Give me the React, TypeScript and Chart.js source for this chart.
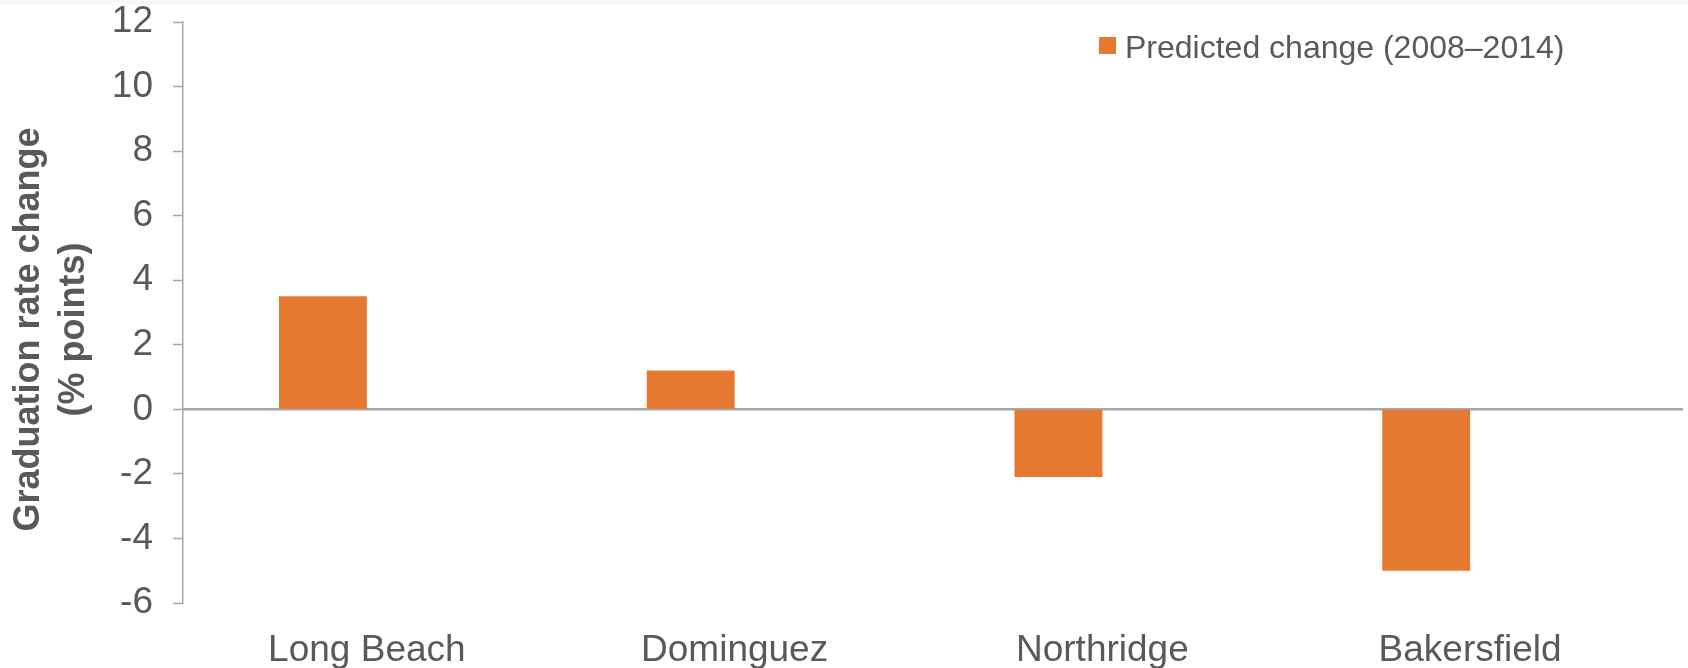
import React, { useEffect, useRef } from "react";
import { Chart, registerables } from "chart.js";

Chart.register(...registerables);

const categories = ["Long Beach", "Dominguez", "Northridge", "Bakersfield"];
const predictedChange = [3.5, 1.2, -2.1, -5.0];
const emptySlot = [null, null, null, null];
const seriesLabel = "Predicted change (2008\u20132014)";
const yTitleLines = ["Graduation rate change", "(% points)"];
const yMin = -6;
const yMax = 12;
const yStep = 2;

const FONT = "'Liberation Sans', Arial, sans-serif";
const TEXT = "#595959";
const AXIS = "#a6a6a6";
const BAR = "#E5792F";

export default function App() {
  const ref = useRef<HTMLCanvasElement | null>(null);

  useEffect(() => {
    document.body.style.margin = "0";
    const canvas = ref.current;
    if (!canvas) return;

    const overlay = {
      id: "overlay",
      beforeDraw(chart: any) {
        const { ctx } = chart;
        ctx.save();
        ctx.fillStyle = "#ffffff";
        ctx.fillRect(0, 0, chart.width, chart.height);
        ctx.fillStyle = "#f8f8f8";
        ctx.fillRect(0, 0, chart.width, 5);
        ctx.restore();
      },
      beforeDatasetsDraw(chart: any) {
        const { ctx, chartArea } = chart;
        const y0 = chart.scales.y.getPixelForValue(0);
        ctx.save();
        ctx.strokeStyle = AXIS;
        ctx.lineWidth = 2.5;
        ctx.beginPath();
        ctx.moveTo(chartArea.left, y0);
        ctx.lineTo(chart.width - 5, y0);
        ctx.stroke();
        ctx.restore();
      },
      afterDraw(chart: any) {
        const { ctx, chartArea } = chart;
        ctx.save();
        ctx.fillStyle = TEXT;
        ctx.font = `bold 36px ${FONT}`;
        ctx.textAlign = "center";
        ctx.textBaseline = "middle";
        const cy = (chartArea.top + chartArea.bottom) / 2 + 17;
        const xs = [29, 74];
        yTitleLines.forEach((line, i) => {
          ctx.save();
          ctx.translate(xs[i], cy);
          ctx.rotate(-Math.PI / 2);
          ctx.fillText(line, 0, 0);
          ctx.restore();
        });
        ctx.restore();
        const ds = chart.data.datasets[0];
        ctx.save();
        ctx.fillStyle = ds.backgroundColor as string;
        ctx.fillRect(1099, 37, 17, 17);
        ctx.fillStyle = TEXT;
        ctx.font = `32px ${FONT}`;
        ctx.textAlign = "left";
        ctx.textBaseline = "alphabetic";
        ctx.fillText(ds.label, 1125, 58);
        ctx.restore();
      },
    };

    const chart = new Chart(canvas, {
      type: "bar",
      data: {
        labels: categories,
        datasets: [
          {
            label: seriesLabel,
            data: predictedChange,
            backgroundColor: BAR,
            borderWidth: 0,
          },
          {
            label: "",
            data: emptySlot as any,
            backgroundColor: "rgba(0,0,0,0)",
            borderWidth: 0,
          },
        ],
      },
      options: {
        responsive: false,
        animation: false,
        maintainAspectRatio: false,
        layout: { padding: { top: 22, right: 34, left: 0, bottom: 0 } },
        datasets: {
          bar: { categoryPercentage: 0.478, barPercentage: 1 },
        },
        plugins: {
          legend: { display: false },
          tooltip: { enabled: false },
        },
        scales: {
          x: {
            grid: { display: false },
            border: { display: false },
            ticks: {
              color: TEXT,
              font: { family: FONT, size: 37 },
              padding: 18,
              maxRotation: 0,
            },
            afterFit(scale: any) {
              scale.height = 65;
              scale.paddingLeft = 0;
              scale.paddingRight = 0;
            },
          },
          y: {
            min: yMin,
            max: yMax,
            ticks: {
              stepSize: yStep,
              color: TEXT,
              font: { family: FONT, size: 37 },
              padding: 20,
            },
            grid: {
              color: "rgba(0,0,0,0)",
              tickColor: AXIS,
              tickWidth: 1.5,
              tickLength: 10,
            },
            border: { display: true, color: AXIS, width: 1.5 },
            afterFit(scale: any) {
              scale.width = 183;
              scale.paddingTop = 0;
              scale.paddingBottom = 0;
            },
          },
        },
      },
      plugins: [overlay],
    });

    return () => chart.destroy();
  }, []);

  return (
    <div style={{ width: 1688, height: 668 }}>
      <canvas ref={ref} width={1688} height={668} style={{ display: "block" }} />
    </div>
  );
}
